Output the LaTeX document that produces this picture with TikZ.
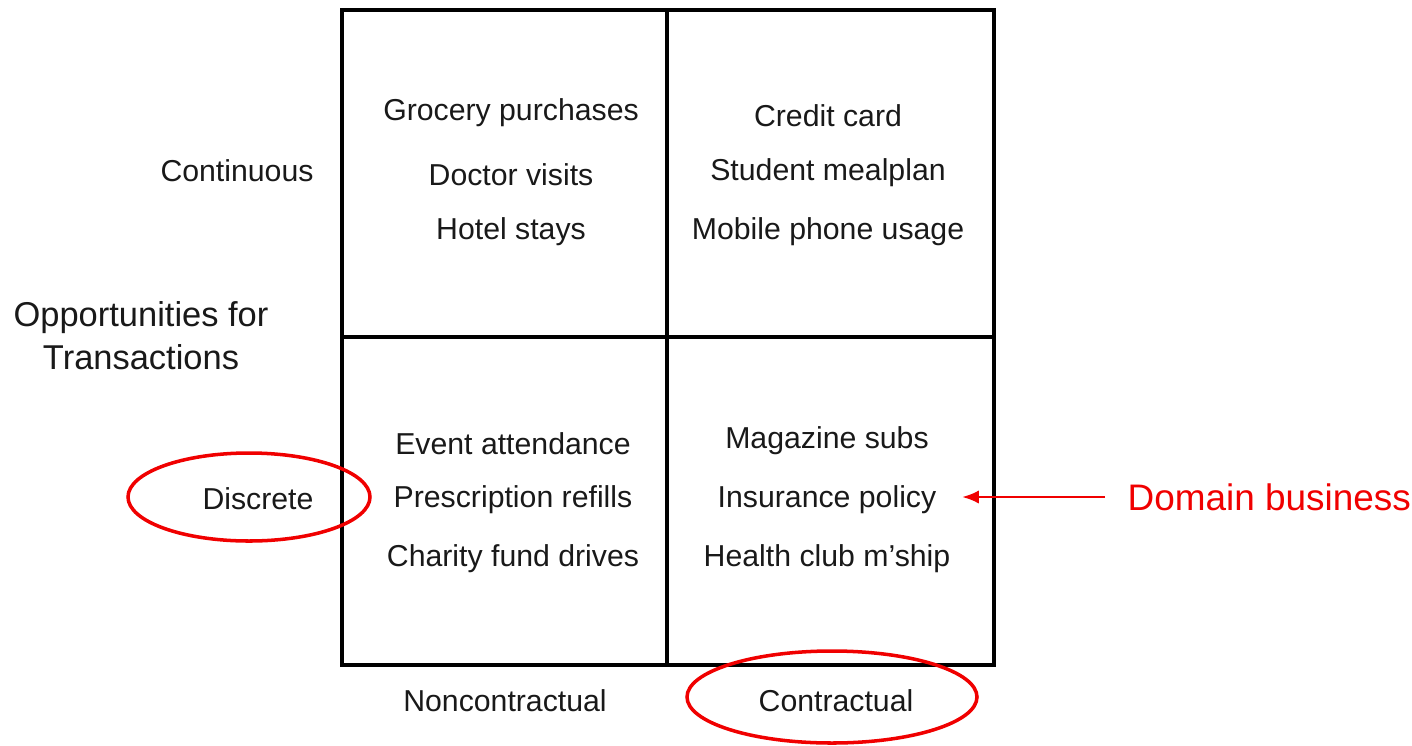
\documentclass[tikz,border=0pt]{standalone}
\usepackage{fontspec}
\setmainfont{Liberation Sans}
\usetikzlibrary{arrows.meta}
\definecolor{markred}{RGB}{240,0,0}
\definecolor{inkgray}{RGB}{25,25,25}

\begin{document}
\begin{tikzpicture}[x=0.01cm,y=-0.01cm,grid/.style={draw=black,line width=1.2pt},
	item/.style={text=inkgray,font=\fontsize{8.6pt}{10pt}\selectfont,inner xsep=0.25cm,yshift=-0.8pt},
	axis/.style={text=inkgray,font=\fontsize{9.8pt}{12.2pt}\selectfont,align=center},
	ring/.style={draw=markred,line width=1pt},
	pointer/.style={draw=markred,line width=0.8pt,-{Latex[length=4.8pt,width=3.8pt]}}]
		\useasboundingbox (0,0) rectangle (1412,745);
		\draw[grid] (342,10) rectangle (994,665);
		\draw[grid] (667,10) -- (667,665);
		\draw[grid] (342,337) -- (994,337);
		\node[item] (c1) at (511,110) {Grocery purchases};
		\node[item] (c2) at (511,172) {Doctor visits};
		\node[item] (c3) at (511,229) {Hotel stays};
		\node[item] (k1) at (828,113) {Credit card};
		\node[item] (k2) at (828,170) {Student mealplan};
		\node[item] (k3) at (828,229) {Mobile phone usage};
		\node[item] (e1) at (513,441) {Event attendance};
		\node[item] (e2) at (513,497) {Prescription refills};
		\node[item] (e3) at (513,556) {Charity fund drives};
		\node[item] (m1) at (827,438) {Magazine subs};
		\node[item] (ins) at (827,497) {Insurance policy};
		\node[item] (m3) at (827,556) {Health club m'ship};
		\node[item] (cont) at (237,168) {Continuous};
		\node[item] (disc) at (258,496) {Discrete};
		\node[item] (nonc) at (505,698) {Noncontractual};
		\node[item] (contr) at (836,698) {Contractual};
		\node[axis] (opp) at (141,336) {Opportunities for\\Transactions};
		\node[text=markred,font=\fontsize{10.5pt}{12pt}\selectfont,anchor=west,inner xsep=0.22cm] (dom) at (1105,497) {Domain business};
		\draw[ring] (249,497) ellipse (121 and 44);
		\draw[ring] (832,697) ellipse (145 and 46);
		\draw[pointer] (dom.west) -- (dom.west -| ins.east);
	\end{tikzpicture}
\end{document}
